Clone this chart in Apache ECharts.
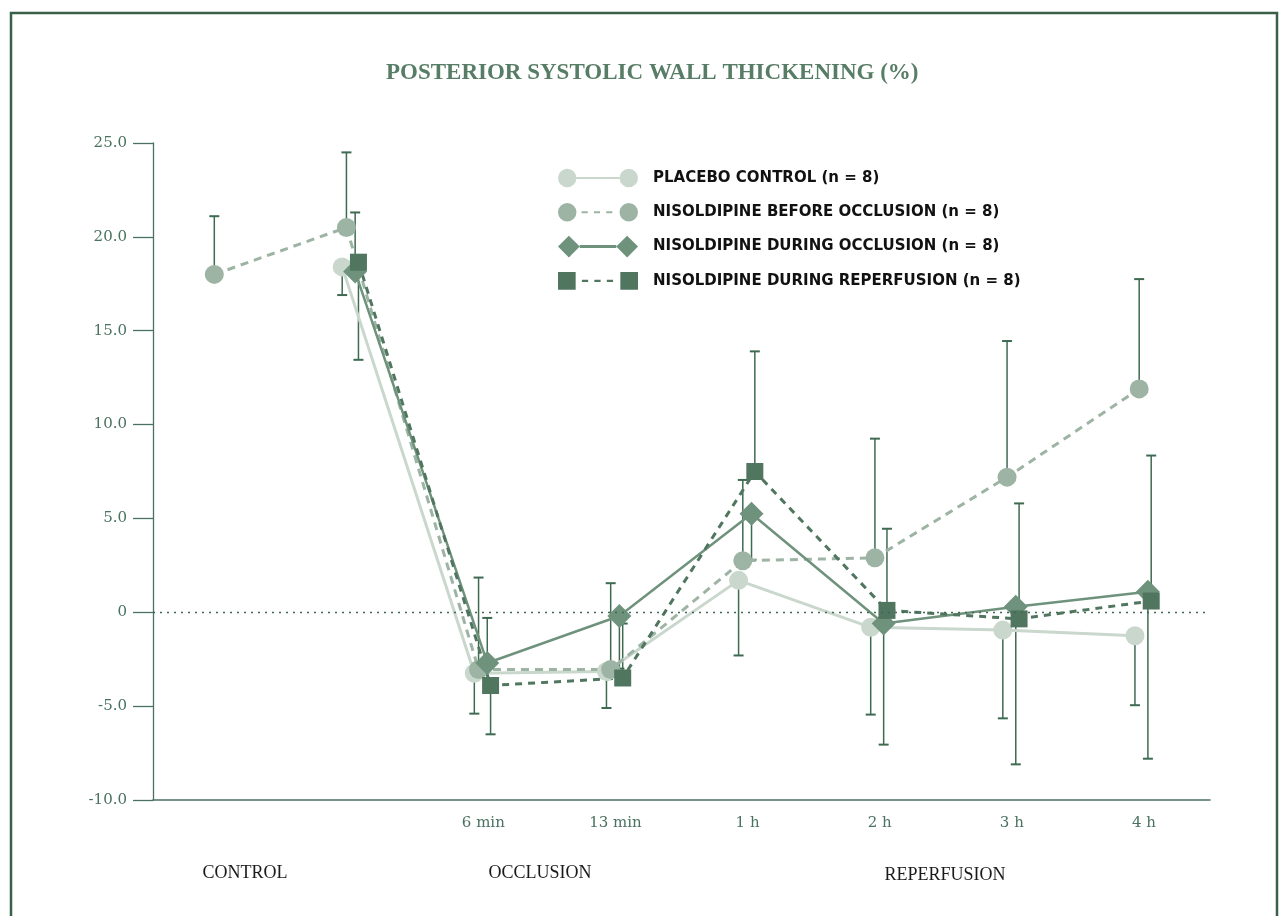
<!DOCTYPE html>
<html>
<head>
<meta charset="utf-8">
<title>Posterior systolic wall thickening</title>
<script src="https://cdn.jsdelivr.net/npm/echarts@6/dist/echarts.min.js"></script>
<style>
  html, body { margin: 0; padding: 0; background: #fff; }
  #chart { width: 1280px; height: 916px; }
</style>
</head>
<body>
<div id="chart"></div>
<script>
// time points (first two are the control measurements, unlabelled on the axis)
const timeLabels = ['', '', '6 min', '13 min', '1 h', '2 h', '3 h', '4 h'];
const phaseLabels = ['CONTROL', 'OCCLUSION', 'REPERFUSION'];

const seriesNames = [
    'PLACEBO CONTROL (n = 8)',
    'NISOLDIPINE BEFORE OCCLUSION (n = 8)',
    'NISOLDIPINE DURING OCCLUSION (n = 8)',
    'NISOLDIPINE DURING REPERFUSION (n = 8)'
];

// mean values (%), null = not measured
const placebo      = [null, 18.4, -3.25, -3.15, 1.7, -0.8, -0.95, -1.25];
const beforeOccl   = [18.0, 20.5, -3.05, -3.05, 2.75, 2.9, 7.2, 11.9];
const duringOccl   = [null, 18.15, -2.7, -0.2, 5.25, -0.6, 0.3, 1.1];
const duringReperf = [null, 18.65, -3.9, -3.5, 7.5, 0.1, -0.35, 0.6];

// end of the (one-sided) error bar for each point
const placeboErr      = [null, 16.9, -5.4, -5.1, -2.3, -5.45, -5.65, -4.95];
const beforeOcclErr   = [21.1, 24.5, 1.85, 1.55, 7.05, 9.25, 14.45, 17.75];
const duringOcclErr   = [null, 21.3, -0.3, -3.0, 2.8, -7.05, -8.1, -7.8];
const duringReperfErr = [null, 13.45, -6.5, -0.6, 13.9, 4.45, 5.8, 8.35];

const axisColor = '#4a7260';
const barColor = '#3f6a52';

const styles = [
    { color: '#c9d7cd', symbol: 'circle', size: 19, line: 'solid', width: 3, shift: -0.068,
      icon: 'path://M0,9a9,9 0 1,0 18,0a9,9 0 1,0 -18,0Z M18,8H60V10H18Z M60,9a9,9 0 1,0 18,0a9,9 0 1,0 -18,0Z' },
    { color: '#9db4a4', symbol: 'circle', size: 19, line: [8, 6], width: 3, shift: -0.036,
      icon: 'path://M0,9a9,9 0 1,0 18,0a9,9 0 1,0 -18,0Z M23,8h6v2h-6Z M35,8h6v2h-6Z M47,8h6v2h-6Z M60,9a9,9 0 1,0 18,0a9,9 0 1,0 -18,0Z' },
    { color: '#6f927c', symbol: 'diamond', size: 24, line: 'solid', width: 2.5, shift: 0.03,
      icon: 'path://M0,11L11,0L22,11L11,22Z M22,9.5H59V12.5H22Z M59,11L70,0L81,11L70,22Z' },
    { color: '#50765f', symbol: 'rect', size: 17, line: [7, 6], width: 3, shift: 0.055,
      icon: 'path://M0,0H17V17H0Z M23,7.5h6v2h-6Z M35,7.5h6v2h-6Z M47,7.5h6v2h-6Z M60,0H77V17H60Z' }
];

const means = [placebo, beforeOccl, duringOccl, duringReperf];
const errs = [placeboErr, beforeOcclErr, duringOcclErr, duringReperfErr];

function toPoints(values, ends, shift) {
    const line = [];
    const bars = [];
    values.forEach((v, i) => {
        if (v == null) return;
        line.push([i + shift, v]);
        if (ends[i] != null) bars.push([i + shift, v, ends[i]]);
    });
    return { line, bars };
}

function renderBar(params, api) {
    const from = api.coord([api.value(0), api.value(1)]);
    const to = api.coord([api.value(0), api.value(2)]);
    return {
        type: 'group',
        children: [
            { type: 'line', shape: { x1: from[0], y1: from[1], x2: to[0], y2: to[1] },
              style: { stroke: barColor, lineWidth: 1.5 } },
            { type: 'line', shape: { x1: to[0] - 5, y1: to[1], x2: to[0] + 5, y2: to[1] },
              style: { stroke: barColor, lineWidth: 2 } }
        ]
    };
}

const series = [];
means.forEach((values, k) => {
    const s = styles[k];
    const pts = toPoints(values, errs[k], s.shift);
    series.push({
        type: 'custom',
        name: seriesNames[k] + ' SD',
        xAxisIndex: 1,
        z: 1,
        silent: true,
        renderItem: renderBar,
        encode: { x: 0, y: 1 },
        data: pts.bars
    });
});
means.forEach((values, k) => {
    const s = styles[k];
    const pts = toPoints(values, errs[k], s.shift);
    series.push({
        type: 'line',
        name: seriesNames[k],
        xAxisIndex: 1,
        z: 3,
        data: pts.line,
        symbol: s.symbol,
        symbolSize: s.size,
        color: s.color,
        itemStyle: { color: s.color, borderWidth: 0 },
        lineStyle: { color: s.color, width: s.width, type: s.line },
        markLine: k === 0 ? {
            silent: true,
            symbol: 'none',
            label: { show: false },
            lineStyle: { color: barColor, type: [2, 5], width: 1.3 },
            data: [{ yAxis: 0 }]
        } : undefined
    });
});

const chart = echarts.init(document.getElementById('chart'));

chart.setOption({
    backgroundColor: '#fff',
    animation: false,
    title: {
        text: 'POSTERIOR SYSTOLIC WALL THICKENING (%)',
        left: 381,
        top: 57,
        textStyle: { fontFamily: 'Liberation Serif', fontWeight: 'bold', fontSize: 23, color: '#587d66' }
    },
    legend: {
        orient: 'vertical',
        left: 553,
        top: 162,
        itemWidth: 80,
        itemHeight: 22,
        itemGap: 12.3,
        symbolKeepAspect: true,
        selectedMode: false,
        textStyle: {
            fontFamily: 'DejaVu Sans', fontWeight: 'bold', fontSize: 15, color: '#111',
            lineHeight: 22, padding: [0, 0, 0, 10]
        },
        data: seriesNames.map((n, k) => ({ name: n, icon: styles[k].icon }))
    },
    grid: { left: 153, right: 70, top: 143, bottom: 116 },
    xAxis: [
        {
            type: 'category',
            data: timeLabels,
            boundaryGap: true,
            axisLine: { onZero: false, lineStyle: { color: axisColor, width: 1.5 } },
            axisTick: { show: false },
            splitLine: { show: false },
            axisLabel: { color: axisColor, fontFamily: 'DejaVu Serif', fontSize: 15, margin: 16 }
        },
        { type: 'value', min: -0.5, max: 7.5, show: false, splitLine: { show: false } }
    ],
    yAxis: {
        type: 'value',
        min: -10,
        max: 25,
        interval: 5,
        axisLine: { show: true, onZero: false, lineStyle: { color: axisColor, width: 1.3 } },
        axisTick: { show: true, length: 20, lineStyle: { color: axisColor, width: 1.3 } },
        splitLine: { show: false },
        axisLabel: {
            color: axisColor,
            fontFamily: 'DejaVu Serif',
            fontSize: 15,
            margin: 26,
            formatter: v => (v === 0 ? '0' : v.toFixed(1))
        }
    },
    graphic: [
        { type: 'rect', shape: { x: 11, y: 13, width: 1266, height: 940 },
          style: { fill: 'none', stroke: '#3a6049', lineWidth: 2.5 }, silent: true },
        { type: 'text', x: 245, y: 873,
          style: { text: phaseLabels[0], fill: '#1a1a1a', font: '18px "Liberation Serif"', align: 'center', verticalAlign: 'middle' } },
        { type: 'text', x: 540, y: 873,
          style: { text: phaseLabels[1], fill: '#1a1a1a', font: '18px "Liberation Serif"', align: 'center', verticalAlign: 'middle' } },
        { type: 'text', x: 945, y: 875,
          style: { text: phaseLabels[2], fill: '#1a1a1a', font: '18px "Liberation Serif"', align: 'center', verticalAlign: 'middle' } }
    ],
    series: series
});
</script>
</body>
</html>
